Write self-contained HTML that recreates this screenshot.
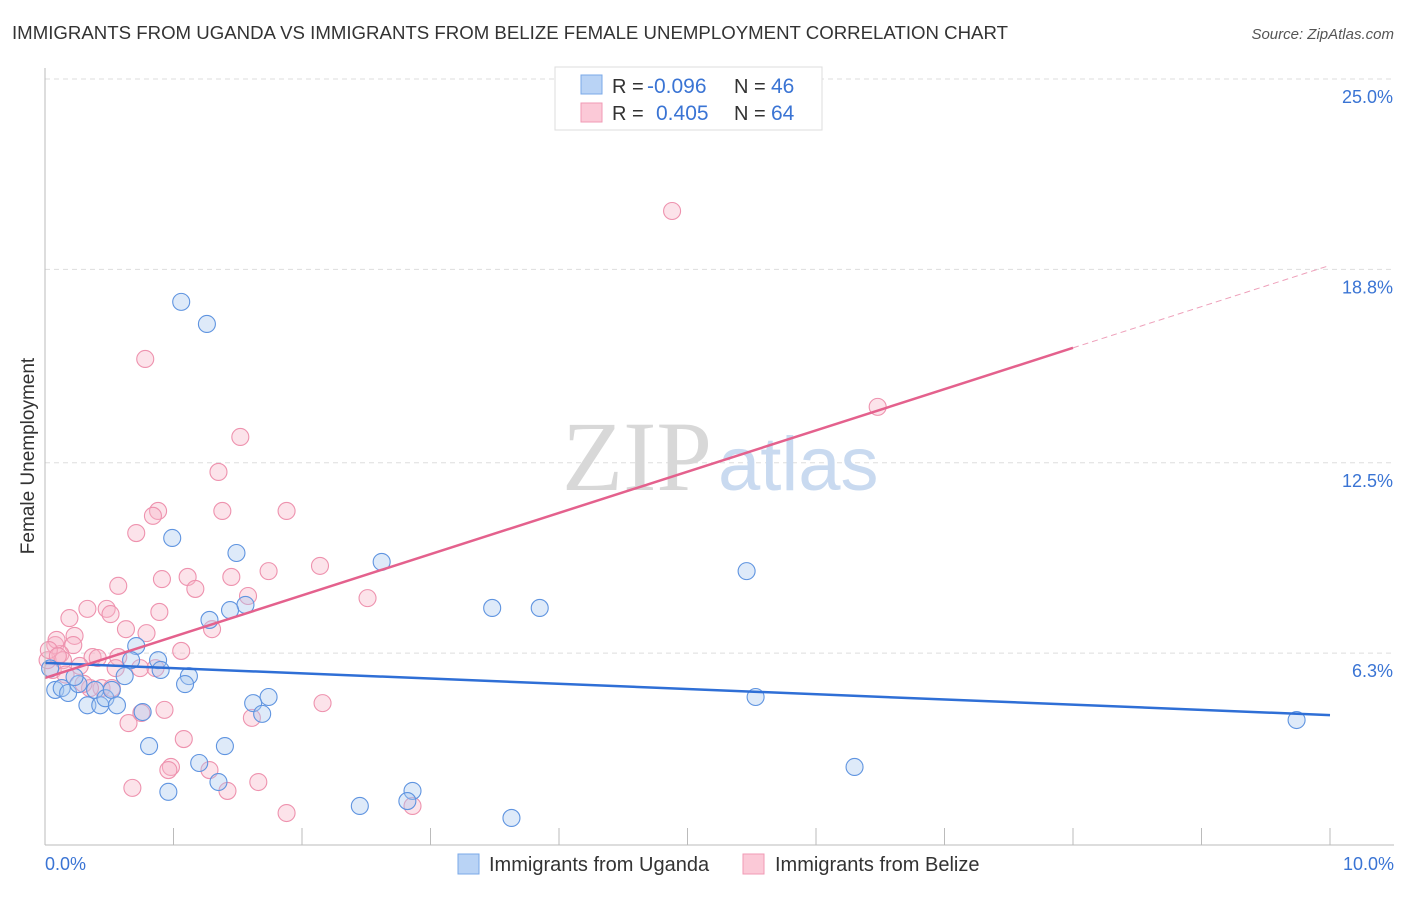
<!DOCTYPE html>
<html><head><meta charset="utf-8">
<style>
body{margin:0;background:#fff;font-family:"Liberation Sans",sans-serif;}
svg text{font-family:"Liberation Sans",sans-serif;}
</style></head>
<body>
<svg id="chart" width="1406" height="892" viewBox="0 0 1406 892">
<text x="12" y="39" font-size="18" fill="#333" textLength="996" lengthAdjust="spacingAndGlyphs">IMMIGRANTS FROM UGANDA VS IMMIGRANTS FROM BELIZE FEMALE UNEMPLOYMENT CORRELATION CHART</text>
<text x="1394" y="39" font-size="15" fill="#555" font-style="italic" text-anchor="end">Source: ZipAtlas.com</text>
<g id="grid"></g>
<text x="712" y="490" font-size="100" fill="#d8d8d8" text-anchor="end" style="font-family:'Liberation Serif',serif">ZIP</text>
<text x="718" y="490" font-size="76" fill="#c9daf0">atlas</text>
<g id="points"></g>
<g id="lines"></g>
<g id="axes"></g>
<text transform="translate(34,456) rotate(-90)" font-size="19" fill="#333" text-anchor="middle">Female Unemployment</text>
<g>
<rect x="555" y="67" width="267" height="63" fill="#fff" stroke="#ddd"/>
<rect x="581" y="75" width="21" height="19" fill="#b9d3f5" stroke="#7aa8e8"/>
<rect x="581" y="103" width="21" height="19" fill="#fbc9d7" stroke="#f09ab4"/>
<text x="612" y="93" font-size="20" fill="#333">R = <tspan fill="#3a74d4" font-size="21" x="647">-0.096</tspan></text>
<text x="734" y="93" font-size="20" fill="#333">N = <tspan fill="#3a74d4" font-size="21" x="771">46</tspan></text>
<text x="612" y="120" font-size="20" fill="#333">R = <tspan fill="#3a74d4" font-size="21" x="656">0.405</tspan></text>
<text x="734" y="120" font-size="20" fill="#333">N = <tspan fill="#3a74d4" font-size="21" x="771">64</tspan></text>
</g>
<g>
<rect x="458" y="854" width="21" height="20" fill="#b9d3f5" stroke="#7aa8e8"/>
<text x="489" y="871" font-size="20" fill="#333">Immigrants from Uganda</text>
<rect x="743" y="854" width="21" height="20" fill="#fbc9d7" stroke="#f09ab4"/>
<text x="775" y="871" font-size="20" fill="#333">Immigrants from Belize</text>
</g>
</svg>
<script>
const yTicks=[6.3,12.5,18.8,25.0];
const yTickLabels=["6.3%","12.5%","18.8%","25.0%"];
const xTickLabels=["0.0%","10.0%"];
const ugandaX=[1.06,1.26,0.99,1.49,2.62,5.46,3.48,3.85,1.56,1.44,1.28,0.71,0.88,0.67,0.90,1.12,0.62,1.09,5.53,1.74,1.62,1.69,0.76,0.81,1.40,1.20,1.35,0.96,6.30,2.86,2.82,2.45,3.63,9.74,0.08,0.13,0.18,0.26,0.39,0.33,0.43,0.47,0.52,0.56,0.23,0.04];
const ugandaY=[17.74,17.02,10.05,9.56,9.27,8.97,7.77,7.77,7.87,7.70,7.38,6.53,6.07,6.07,5.75,5.55,5.55,5.29,4.87,4.87,4.67,4.32,4.38,3.27,3.27,2.72,2.10,1.78,2.59,1.81,1.48,1.32,0.93,4.12,5.1,5.16,5.0,5.29,5.1,4.6,4.6,4.83,5.1,4.6,5.52,5.8];
const belizeX=[4.88,0.78,6.48,1.52,1.35,1.38,1.88,0.88,0.84,0.71,2.14,1.74,1.11,0.91,1.45,0.57,1.17,1.58,2.51,0.33,0.48,0.51,0.89,0.19,0.63,0.79,1.30,0.23,0.22,0.08,0.12,1.06,0.37,0.41,0.57,0.27,0.74,0.86,0.55,0.06,0.02,0.14,0.44,0.52,2.16,0.93,0.75,0.65,1.61,1.08,0.98,0.96,1.28,1.66,0.68,1.42,1.88,2.86,0.09,0.35,0.03,0.10,0.16,0.30];
const belizeY=[20.7,15.88,14.32,13.34,12.2,10.93,10.93,10.93,10.77,10.21,9.14,8.97,8.78,8.71,8.78,8.49,8.39,8.16,8.09,7.74,7.74,7.57,7.64,7.44,7.08,6.95,7.08,6.86,6.56,6.56,6.27,6.37,6.17,6.14,6.17,5.88,5.81,5.81,5.81,5.75,6.07,6.07,5.16,5.16,4.67,4.45,4.35,4.02,4.19,3.5,2.59,2.49,2.49,2.10,1.91,1.81,1.09,1.32,6.73,5.16,6.4,6.2,5.6,5.3];
const ugandaTrend=[5.98,-0.17]; // intercept, slope
const belizeTrend=[5.49,1.344];
const belizeSolidEnd=8.0;

const NS="http://www.w3.org/2000/svg";
const X0=45,X1=1330,Y25=79,PXPCT=30.7;
const sx=v=>X0+(X1-X0)*v/10;
const sy=v=>Y25+(25-v)*PXPCT;
function mk(tag,attrs,parent){const e=document.createElementNS(NS,tag);for(const k in attrs)e.setAttribute(k,attrs[k]);parent.appendChild(e);return e;}
const grid=document.getElementById('grid'),axes=document.getElementById('axes'),pts=document.getElementById('points'),lines=document.getElementById('lines');
yTicks.forEach((t,i)=>{
  const l=mk('line',{x1:X0,x2:1394,y1:sy(t),y2:sy(t),stroke:'#ddd','stroke-dasharray':'5,4'},grid);
  
  
  const tx=mk('text',{x:1393,y:sy(t)+24,'font-size':18,fill:'#3a74d4','text-anchor':'end'},axes);
  tx.textContent=yTickLabels[i];
  
  
});
const ax=mk('line',{x1:X0,x2:X0,y1:68,y2:845,stroke:'#bbb'},axes);


const bx=mk('line',{x1:X0,x2:1394,y1:845,y2:845,stroke:'#bbb'},axes);


for(let i=1;i<=10;i++){
  const t=mk('line',{x1:sx(i),x2:sx(i),y1:828,y2:845,stroke:'#bbb'},axes);
  
  
}
[[0,'start',45],[10,'end',1394]].forEach((a,i)=>{
  const tx=mk('text',{x:a[2],y:870,'font-size':18,fill:'#3a74d4','text-anchor':a[1]},axes);
  tx.textContent=xTickLabels[i];
  
  
});
function dots(xs,ys,fill,stroke,name){
  xs.forEach((x,i)=>{
    const c=mk('circle',{cx:sx(x),cy:sy(ys[i]),r:8.5,fill:fill,'fill-opacity':0.38,stroke:stroke,'stroke-width':1.1},pts);
    
    
  });
}
dots(belizeX,belizeY,'#f7b6c9','#ee92ae','point-belize');
dots(ugandaX,ugandaY,'#a9c8f0','#5f94e0','point-uganda');
const ul=mk('line',{x1:sx(0),y1:sy(ugandaTrend[0]),x2:sx(10),y2:sy(ugandaTrend[0]+ugandaTrend[1]*10),stroke:'#2f6fd6','stroke-width':2.5},lines);


const bl=mk('line',{x1:sx(0),y1:sy(belizeTrend[0]),x2:sx(belizeSolidEnd),y2:sy(belizeTrend[0]+belizeTrend[1]*belizeSolidEnd),stroke:'#e4618d','stroke-width':2.5},lines);


const bd=mk('line',{x1:sx(belizeSolidEnd),y1:sy(belizeTrend[0]+belizeTrend[1]*belizeSolidEnd),x2:sx(10),y2:sy(belizeTrend[0]+belizeTrend[1]*10),stroke:'#eea0ba','stroke-width':1,'stroke-dasharray':'6,4'},lines);


</script>
</body></html>
